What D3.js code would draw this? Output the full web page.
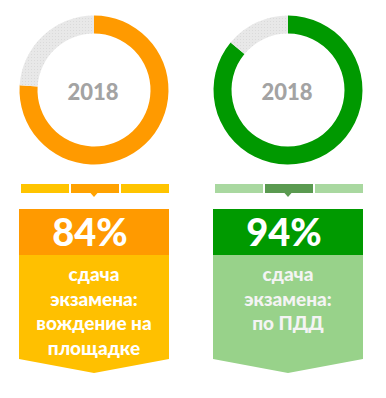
<!DOCTYPE html>
<html>
<head>
<meta charset="utf-8">
<script src="https://cdn.jsdelivr.net/npm/d3@7"></script>
<style>
  body { margin: 0; background: #fff; }
  svg { display: block; }
</style>
</head>
<body>
<svg id="chart" width="386" height="398"></svg>
<script>
// data
const years = ["2018", "2018"];
const ringValues = [76, 86];
const percents = [84, 94];
const captions = [
    ["сдача", "экзамена:", "вождение на", "площадке"],
    ["сдача", "экзамена:", "по ПДД"]
];

// colours for each block
const themes = [
    {ring: "#ff9a00", head: "#ff9a00", body: "#ffc000", bar: "#ffc400", barMid: "#ffa200", caption: "#ffffff"},
    {ring: "#009900", head: "#009a00", body: "#98d28a", bar: "#a9d8a0", barMid: "#5a9a50", caption: "#f4f4f4"}
];

const svg = d3.select("#chart");
const font = "Lato, 'Open Sans', sans-serif";

// dotted grey for the rest of the ring
const defs = svg.append("defs");
const pat = defs.append("pattern")
    .attr("id", "dots")
    .attr("width", 3)
    .attr("height", 3)
    .attr("patternUnits", "userSpaceOnUse");
pat.append("rect").attr("width", 3).attr("height", 3).attr("fill", "#e8e8e8");
pat.append("rect").attr("width", 1).attr("height", 1).attr("fill", "#dadada");

const x = d3.scalePoint().domain(d3.range(years.length)).range([94, 288]);

const pie = d3.pie().sort(null).value(d => d);
const arc = d3.arc().innerRadius(56.5).outerRadius(74.5);

years.forEach(function (year, i) {
    const t = themes[i];
    const cx = x(i);

    // ring
    const ring = svg.append("g").attr("transform", `translate(${cx},90)`);
    ring.selectAll("path")
        .data(pie([ringValues[i], 100 - ringValues[i]]))
        .enter()
        .append("path")
        .attr("d", arc)
        .attr("fill", (d, k) => k === 0 ? t.ring : "url(#dots)");

    ring.append("text")
        .attr("x", -1)
        .attr("y", 10)
        .attr("text-anchor", "middle")
        .attr("font-family", font)
        .attr("font-weight", 900)
        .attr("font-size", 22)
        .attr("fill", "#a3a3a3")
        .text(year);

    // block below
    const g = svg.append("g").attr("transform", `translate(${cx},0)`);
    const w = 150, half = w / 2;
    const seg = w / 3;

    g.selectAll("rect.bar")
        .data([0, 1, 2])
        .enter()
        .append("rect")
        .attr("class", "bar")
        .attr("x", k => -half + 2 + k * seg)
        .attr("y", 184)
        .attr("width", seg - 2)
        .attr("height", 9)
        .attr("fill", k => k === 1 ? t.barMid : t.bar);

    g.append("path")
        .attr("d", "M-3.5,193L3.5,193L0,197Z")
        .attr("fill", t.barMid);

    g.append("path")
        .attr("d", `M${-half},255L${half},255L${half},359L0,373L${-half},359Z`)
        .attr("fill", t.body);

    g.append("rect")
        .attr("x", -half)
        .attr("y", 209)
        .attr("width", w)
        .attr("height", 46)
        .attr("fill", t.head);

    g.append("text")
        .attr("x", -4)
        .attr("y", 246)
        .attr("text-anchor", "middle")
        .attr("font-family", font)
        .attr("font-weight", 900)
        .attr("font-size", 38)
        .attr("fill", "#fff")
        .text(percents[i] + "%");

    g.selectAll("text.cap")
        .data(captions[i])
        .enter()
        .append("text")
        .attr("class", "cap")
        .attr("x", 0)
        .attr("y", (d, k) => 281 + k * 24.5)
        .attr("text-anchor", "middle")
        .attr("font-family", font)
        .attr("font-weight", 900)
        .attr("font-size", 19)
        .attr("fill", t.caption)
        .text(d => d);
});
</script>
</body>
</html>
